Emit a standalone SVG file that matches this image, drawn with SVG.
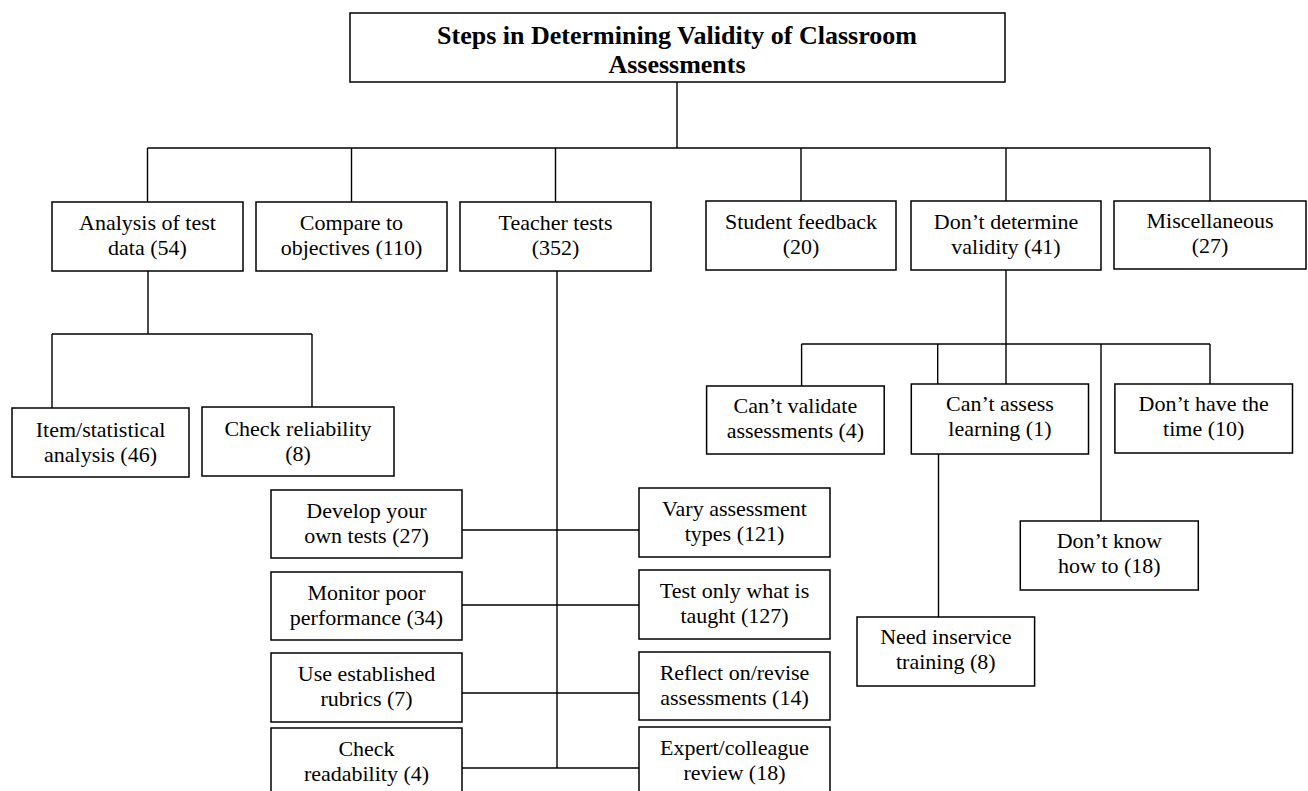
<svg xmlns="http://www.w3.org/2000/svg" width="1308" height="791" viewBox="0 0 1308 791">
<style>
.box{fill:#fff;stroke:#000;stroke-width:1.5}
.t{font-family:"Liberation Serif","Times New Roman",serif;font-size:22px;fill:#000;text-anchor:middle}
.title{font-family:"Liberation Serif","Times New Roman",serif;font-size:26px;font-weight:bold;fill:#000;text-anchor:middle}
.c{fill:none;stroke:#000;stroke-width:1.4}
</style>
<rect width="1308" height="791" fill="#fff"/>
<g id="connectors">
<path class="c" d="M677,82V148M147.5,148H1210M147.5,148V202M351.5,148V202M555.5,148V202M801,148V202M1006,148V202M1210,148V202"/>
<path class="c" d="M148,271V334M52,334H312M52,334V408M312,334V408"/>
<path class="c" d="M557,271V768M462,530H639M462,605H639M462,693H639M462,768H639"/>
<path class="c" d="M1006,270V384M801.6,344H1210M801.6,344V386M937.7,344V384M1101,344V521M1210,344V384M938.5,454V617"/>
</g>
<g id="title"><rect class="box" x="350" y="13" width="655" height="69"/>
<text class="title" x="677" y="44">Steps in Determining Validity of Classroom</text>
<text class="title" x="677" y="73">Assessments</text></g>
<g id="analysis"><rect class="box" x="52" y="202" width="191" height="69"/>
<text class="t" x="147.5" y="230">Analysis of test</text><text class="t" x="147.5" y="255">data (54)</text></g>
<g id="compare"><rect class="box" x="256" y="202" width="191" height="69"/>
<text class="t" x="351.5" y="230">Compare to</text><text class="t" x="351.5" y="255">objectives (110)</text></g>
<g id="teacher"><rect class="box" x="460" y="202" width="191" height="69"/>
<text class="t" x="555.5" y="230">Teacher tests</text><text class="t" x="555.5" y="255">(352)</text></g>
<g id="student"><rect class="box" x="706" y="201" width="190" height="69"/>
<text class="t" x="801" y="229">Student feedback</text><text class="t" x="801" y="254">(20)</text></g>
<g id="dontdetermine"><rect class="box" x="911" y="201" width="190" height="69"/>
<text class="t" x="1006" y="229">Don’t determine</text><text class="t" x="1006" y="254">validity (41)</text></g>
<g id="misc"><rect class="box" x="1114" y="201" width="192" height="68"/>
<text class="t" x="1210" y="228">Miscellaneous</text><text class="t" x="1210" y="253">(27)</text></g>
<g id="item"><rect class="box" x="12" y="408" width="177" height="69"/>
<text class="t" x="100.5" y="437">Item/statistical</text><text class="t" x="100.5" y="462">analysis (46)</text></g>
<g id="reliability"><rect class="box" x="202" y="407" width="192" height="69"/>
<text class="t" x="298" y="436">Check reliability</text><text class="t" x="298" y="461">(8)</text></g>
<g id="develop"><rect class="box" x="271" y="490" width="191" height="68"/>
<text class="t" x="366.5" y="518">Develop your</text><text class="t" x="366.5" y="543">own tests (27)</text></g>
<g id="monitor"><rect class="box" x="271" y="572" width="191" height="68"/>
<text class="t" x="366.5" y="600">Monitor poor</text><text class="t" x="366.5" y="625">performance (34)</text></g>
<g id="rubrics"><rect class="box" x="271" y="653" width="191" height="69"/>
<text class="t" x="366.5" y="681">Use established</text><text class="t" x="366.5" y="706">rubrics (7)</text></g>
<g id="readability"><rect class="box" x="271" y="728" width="191" height="72"/>
<text class="t" x="366.5" y="756">Check</text><text class="t" x="366.5" y="781">readability (4)</text></g>
<g id="vary"><rect class="box" x="639" y="488" width="191" height="69"/>
<text class="t" x="734.5" y="516">Vary assessment</text><text class="t" x="734.5" y="541">types (121)</text></g>
<g id="testonly"><rect class="box" x="639" y="570" width="191" height="69"/>
<text class="t" x="734.5" y="598">Test only what is</text><text class="t" x="734.5" y="623">taught (127)</text></g>
<g id="reflect"><rect class="box" x="639" y="652" width="191" height="68"/>
<text class="t" x="734.5" y="680">Reflect on/revise</text><text class="t" x="734.5" y="705">assessments (14)</text></g>
<g id="expert"><rect class="box" x="639" y="727" width="191" height="73"/>
<text class="t" x="734.5" y="755">Expert/colleague</text><text class="t" x="734.5" y="780">review (18)</text></g>
<g id="cantvalidate"><rect class="box" x="706.6" y="386" width="177.6" height="68"/>
<text class="t" x="795.4" y="413">Can’t validate</text><text class="t" x="795.4" y="438">assessments (4)</text></g>
<g id="cantassess"><rect class="box" x="911.3" y="384" width="177.2" height="70"/>
<text class="t" x="999.9" y="411">Can’t assess</text><text class="t" x="999.9" y="436">learning (1)</text></g>
<g id="donthave"><rect class="box" x="1114.9" y="384" width="177.6" height="69"/>
<text class="t" x="1203.7" y="411">Don’t have the</text><text class="t" x="1203.7" y="436">time (10)</text></g>
<g id="dontknow"><rect class="box" x="1020.3" y="521" width="178" height="69"/>
<text class="t" x="1109.3" y="548">Don’t know</text><text class="t" x="1109.3" y="573">how to (18)</text></g>
<g id="inservice"><rect class="box" x="857" y="617" width="177.6" height="69"/>
<text class="t" x="945.8" y="644">Need inservice</text><text class="t" x="945.8" y="669">training (8)</text></g>
</svg>
